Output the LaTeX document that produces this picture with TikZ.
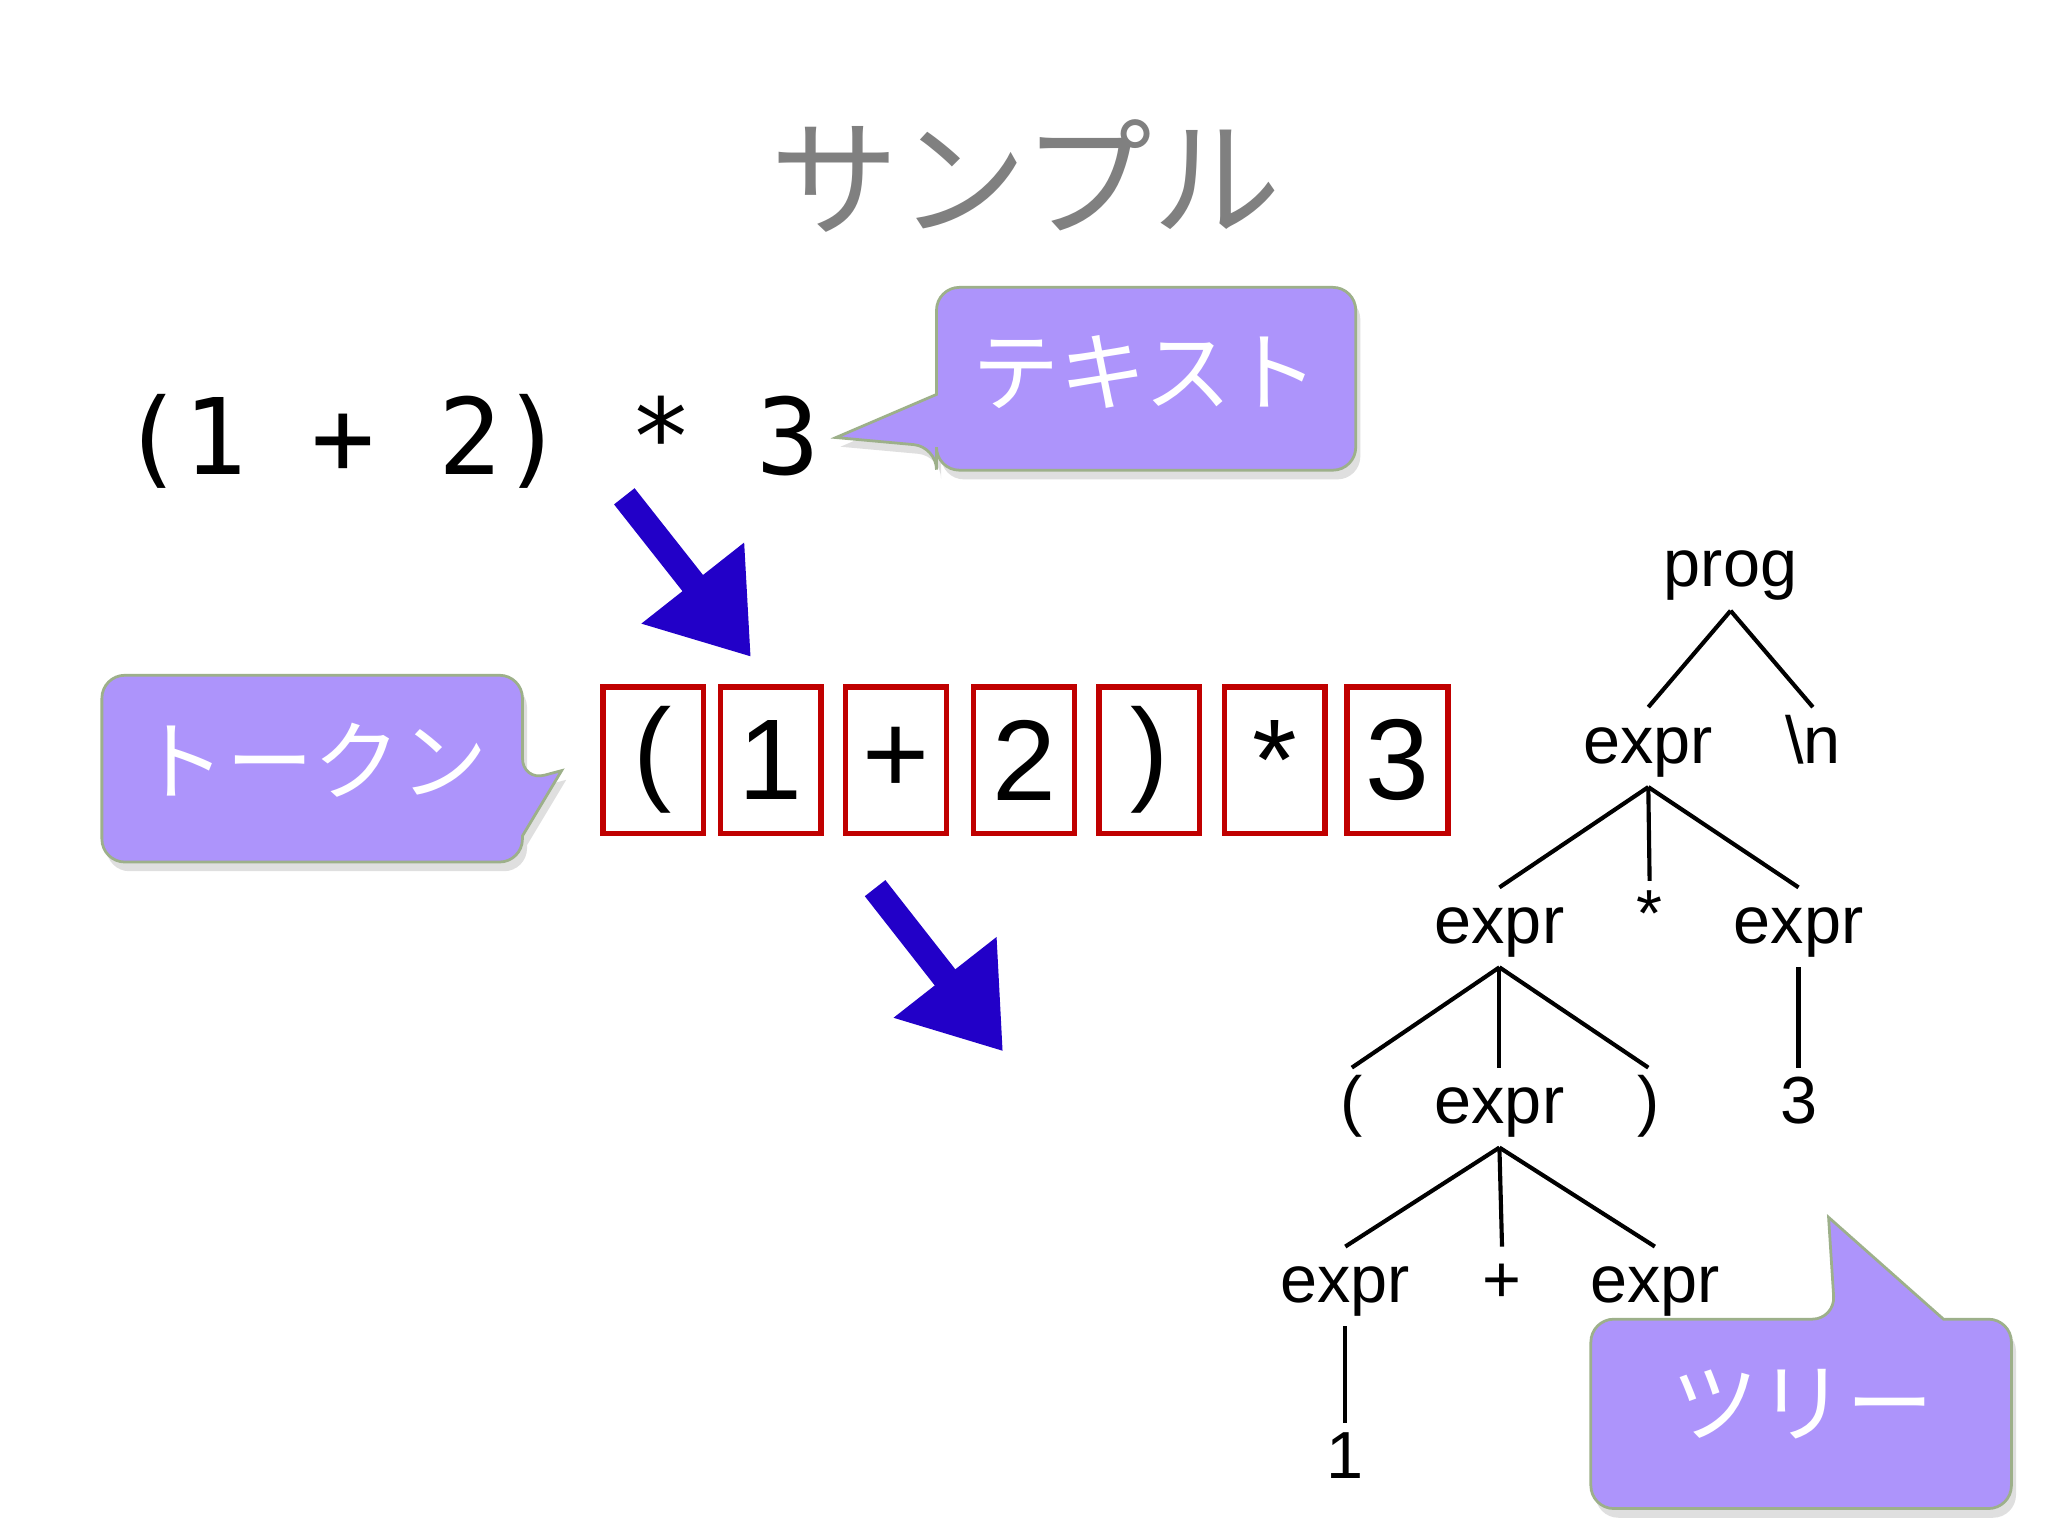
\documentclass[tikz,border=0pt]{standalone}
\usepackage{fontspec}
\setmainfont{Liberation Sans}
\newfontfamily\jp{Noto Sans CJK JP}
\newfontfamily\mono{DejaVu Sans Mono}
\usetikzlibrary{arrows.meta,shadows}
\definecolor{lav}{HTML}{AD94FB}
\definecolor{lavb}{HTML}{9DB08A}
\definecolor{tokred}{HTML}{C00000}
\definecolor{arrblue}{HTML}{2200C8}
\begin{document}
\begin{tikzpicture}[x=0.01cm,y=-0.01cm,
  callout/.style={fill=lav,draw=lavb,line width=0.6pt,drop shadow={opacity=0.25,shadow xshift=1pt,shadow yshift=-2pt}},
  ctext/.style={text=white,font=\jp\fontsize{19}{19}\selectfont},
  tok/.style={draw=tokred,line width=1.2pt,minimum width=0.77cm,minimum height=1.12cm,inner sep=0pt,font=\fontsize{25}{25}\selectfont},
  tn/.style={font=\fontsize{14.5}{14.5}\selectfont,inner sep=2pt,text height=10pt,text depth=3pt},
  te/.style={line width=0.9pt},
  bigarr/.style={arrblue,line width=0.2cm,-{Triangle[length=0.72cm,width=0.95cm]}}]
\useasboundingbox (0,0) rectangle (1568,1176);
\fill[white] (0,0) rectangle (1568,1176);
\node (title) at (785,135) {\jp\color{black!50}\fontsize{28}{28}\selectfont サンプル};
\node (src) at (360,338) {\mono\fontsize{23}{23}\selectfont (1 + 2) * 3};
% callouts
\path[callout,rounded corners=5pt] (717,220) -- (1038,220) -- (1038,360) -- (717,360) -- (717,342) [sharp corners]-- (640,335) -- (717,302) [rounded corners=5pt]-- cycle;
\node[ctext] (c1) at (877,285) {テキスト};
\path[callout,rounded corners=5pt] (78,517) -- (400,517) -- (400,598) [sharp corners]-- (430,590) -- (400,640) [rounded corners=5pt]-- (400,660) -- (78,660) -- cycle;
\node[ctext] (c2) at (240,582) {トークン};
\path[callout,rounded corners=5pt] (1218,1010) -- (1405,1010) [sharp corners]-- (1400,932) -- (1488,1010) [rounded corners=5pt]-- (1540,1010) -- (1540,1155) -- (1218,1155) -- cycle;
\node[ctext] (c3) at (1380,1075) {ツリー};
% tokens
\foreach \x/\t/\n in {500/(/t1,590/1/t2,686/+/t3,784/2/t4,880/)/t5,976/*/t6,1070/3/t7}
  \node[tok] (\n) at (\x,582) {\t};
% arrows
\coordinate (a1s) at (478,380); \coordinate (a1e) at (575,503);
\coordinate (a2s) at (670,680); \coordinate (a2e) at (768,805);
\draw[bigarr] (a1s) -- (a1e);
\draw[bigarr] (a2s) -- (a2e);
% tree
\node[tn] (p) at (1325,437) {prog};
\node[tn] (e1) at (1262,572) {expr};
\node[tn] (nl) at (1388,572) {\textbackslash n};
\node[tn] (e2) at (1148,710) {expr};
\node[tn] (st) at (1263,705) {*};
\node[tn] (e3) at (1377,710) {expr};
\node[tn] (lp) at (1035,848) {(};
\node[tn] (e4) at (1148,848) {expr};
\node[tn] (rp) at (1262,848) {)};
\node[tn] (n3) at (1377,848) {3};
\node[tn] (e5) at (1030,985) {expr};
\node[tn] (pl) at (1150,985) {+};
\node[tn] (e6) at (1267,985) {expr};
\node[tn] (n1) at (1030,1120) {1};
\foreach \a/\b in {p/e1,p/nl,e1/e2,e1/st,e1/e3,e2/lp,e2/e4,e2/rp,e3/n3,e4/e5,e4/pl,e4/e6,e5/n1}
  \draw[te] (\a.south) -- (\b.north);
\end{tikzpicture}
\end{document}
